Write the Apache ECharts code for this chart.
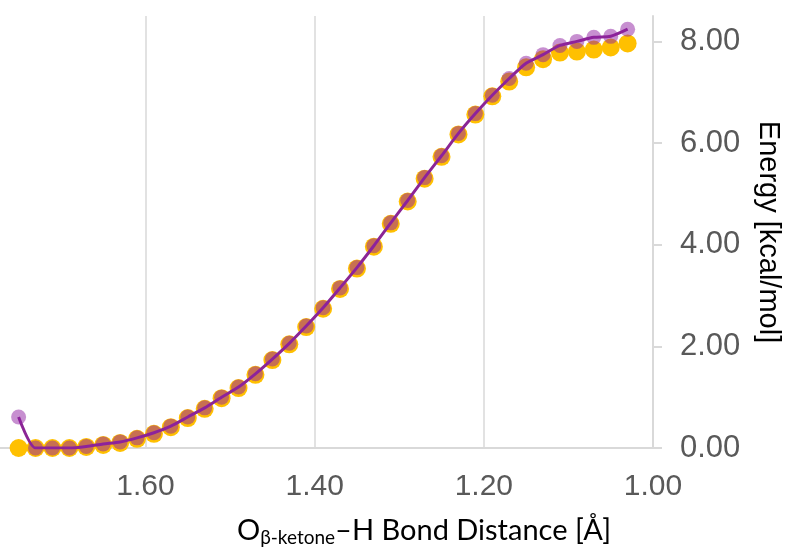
<!DOCTYPE html>
<html>
<head>
<meta charset="utf-8">
<script src="https://cdn.jsdelivr.net/npm/echarts@6/dist/echarts.min.js"></script>
<style>
html,body{margin:0;padding:0;background:#fff;}
#chart{width:785px;height:554px;}
</style>
</head>
<body>
<div id="chart"></div>
<script>
// Bond distances (Å)
const distances = [1.75,1.73,1.71,1.69,1.67,1.65,1.63,1.61,1.59,1.57,1.55,1.53,1.51,1.49,1.47,1.45,1.43,1.41,1.39,1.37,1.35,1.33,1.31,1.29,1.27,1.25,1.23,1.21,1.19,1.17,1.15,1.13,1.11,1.09,1.07,1.05,1.03];
// Orange series energies (kcal/mol)
const energyOrange = [0.00,0.00,0.00,0.00,0.02,0.06,0.10,0.18,0.28,0.41,0.59,0.77,0.98,1.18,1.44,1.73,2.04,2.38,2.74,3.13,3.53,3.96,4.41,4.85,5.30,5.73,6.17,6.56,6.92,7.21,7.49,7.65,7.78,7.80,7.84,7.88,7.96];
// Purple series energies (kcal/mol)
const energyPurple = [0.61,0.00,0.00,0.00,0.03,0.08,0.12,0.20,0.30,0.43,0.61,0.79,1.00,1.20,1.46,1.75,2.06,2.40,2.76,3.15,3.55,3.98,4.43,4.87,5.32,5.75,6.19,6.58,6.94,7.27,7.57,7.74,7.92,8.00,8.08,8.10,8.24];
// Tick labels
const xTicks = [1.0, 1.2, 1.4, 1.6];
const yTicks = [0, 2, 4, 6, 8];

const orangeData = distances.map((d, i) => [d, energyOrange[i]]);
const purpleData = distances.map((d, i) => [d, energyPurple[i]]);

const chart = echarts.init(document.getElementById('chart'));
const labelFont = "'Liberation Sans', Arial, sans-serif";
chart.setOption({
  animation: false,
  grid: {left: 0, right: 132, top: 16, bottom: 106, containLabel: false, outerBoundsMode: 'none'},
  xAxis: {
    type: 'value',
    inverse: true,
    min: 1.0,
    max: 1.772,
    interval: 0.2,
    axisLine: {show: true, lineStyle: {color: '#d9d9d9', width: 2}},
    axisTick: {show: false},
    axisLabel: {
      customValues: xTicks,
      formatter: v => v.toFixed(2),
      fontFamily: labelFont,
      fontSize: 30,
      color: '#595959',
      margin: 24
    },
    splitLine: {show: true, showMaxLine: false, lineStyle: {color: '#d9d9d9', width: 1.5}}
  },
  yAxis: {
    type: 'value',
    position: 'right',
    min: 0,
    max: 8.5,
    interval: 2,
    name: 'Energy [kcal/mol]',
    nameLocation: 'middle',
    nameRotate: -90,
    nameGap: 100,
    nameTextStyle: {fontFamily: labelFont, fontSize: 29, color: '#000'},
    axisLine: {show: true, lineStyle: {color: '#d9d9d9', width: 2}},
    axisTick: {show: true, inside: false, length: 9, customValues: yTicks, lineStyle: {color: '#d9d9d9', width: 2}},
    axisLabel: {
      customValues: yTicks,
      formatter: v => v.toFixed(2),
      fontFamily: labelFont,
      fontSize: 31,
      color: '#595959',
      margin: 27
    },
    splitLine: {show: false}
  },
  graphic: [{
    type: 'text',
    left: 237,
    top: 516,
    style: {
      text: '{m|O}{s|β-ketone}{m|–H Bond Distance [Å]}',
      rich: {
        m: {fontFamily: 'Lato, sans-serif', fontSize: 29, color: '#000', lineHeight: 34, verticalAlign: 'middle'},
        s: {fontFamily: 'Lato, sans-serif', fontSize: 19, color: '#000', lineHeight: 15, verticalAlign: 'bottom'}
      }
    }
  }],
  series: [
    {
      type: 'scatter',
      data: orangeData,
      symbol: 'circle',
      symbolSize: 18,
      itemStyle: {color: '#FFC000', opacity: 1},
      z: 2
    },
    {
      type: 'line',
      data: purpleData,
      smooth: 0.25,
      symbol: 'circle',
      symbolSize: 15,
      showAllSymbol: true,
      itemStyle: {color: 'rgba(143,31,161,0.5)', borderWidth: 0},
      lineStyle: {color: '#8B2595', width: 3},
      z: 3
    }
  ]
});
</script>
</body>
</html>
